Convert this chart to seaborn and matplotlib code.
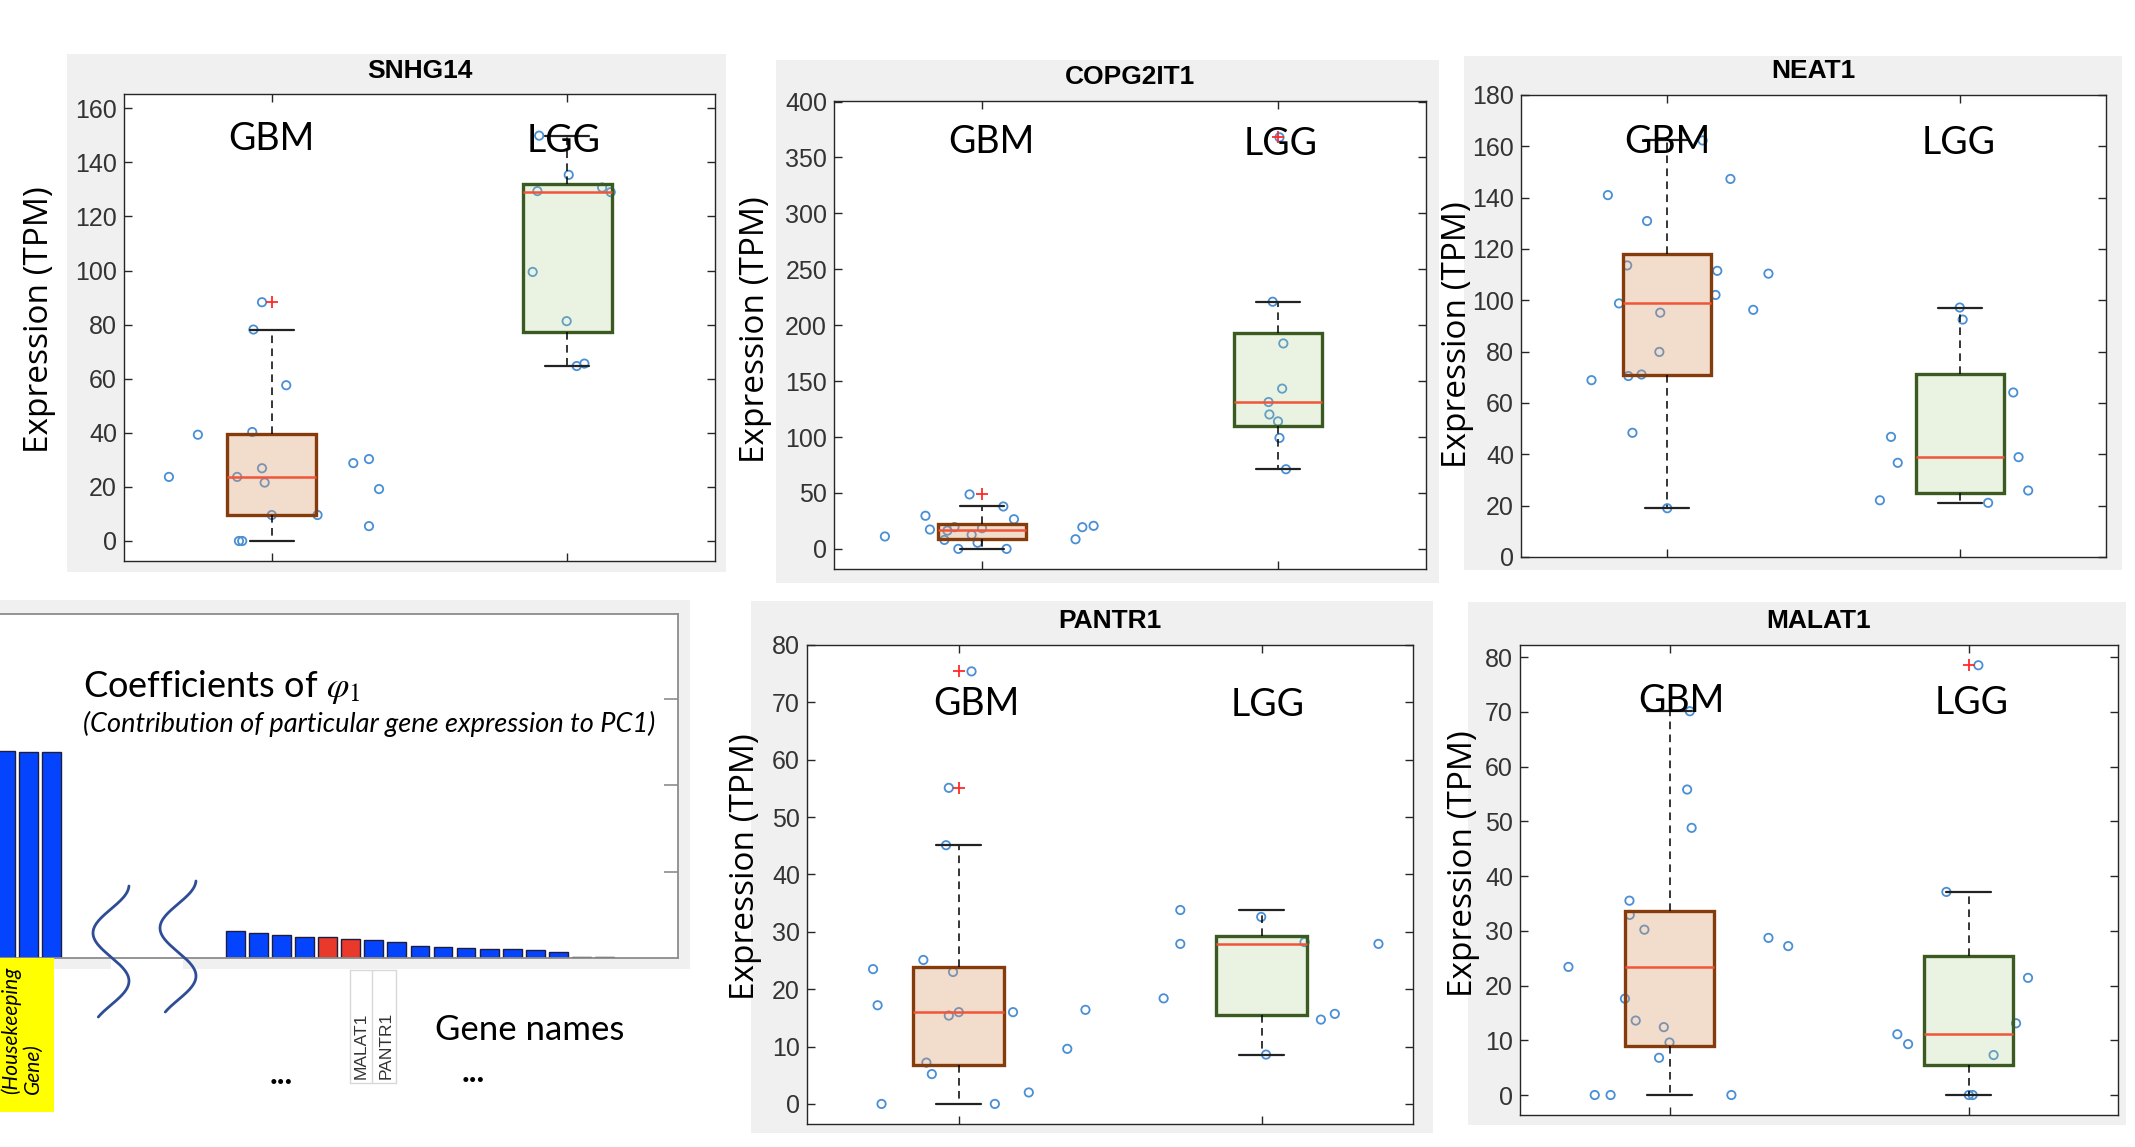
import numpy as np
import pandas as pd
import matplotlib
matplotlib.use("Agg")
import matplotlib.pyplot as plt
import seaborn as sns
from matplotlib.patches import Rectangle
from matplotlib.transforms import blended_transform_factory

# ---------------------------------------------------------------- data
groups = ["GBM", "LGG"]

snhg14_gbm = [23.7, 39.3, 23.7, 0.0, 0.0, 40.3, 78.2, 88.3, 26.9, 21.6, 9.6, 57.6, 9.6, 28.8, 30.3, 19.2, 5.5]
snhg14_gbm_dx = [-0.348, -0.250, -0.117, -0.111, -0.100, -0.066, -0.062, -0.033, -0.033, -0.024, 0.0, 0.049, 0.155, 0.276, 0.329, 0.363, 0.329]
snhg14_lgg = [149.9, 135.4, 129.4, 130.7, 129.0, 99.5, 81.3, 64.7, 65.6]
snhg14_lgg_dx = [-0.095, 0.005, -0.101, 0.118, 0.147, -0.117, -0.002, 0.032, 0.058]

copg2it1_gbm = [11.1, 29.6, 17.3, 8.0, 16.3, 19.4, 0.0, 48.7, 12.6, 5.5, 18.5, 37.9, 0.0, 26.5, 8.6, 19.4, 20.6]
copg2it1_gbm_dx = [-0.328, -0.191, -0.176, -0.127, -0.117, -0.093, -0.080, -0.042, -0.035, -0.015, 0.0, 0.072, 0.083, 0.108, 0.316, 0.339, 0.377]
copg2it1_lgg = [221.0, 368.0, 183.7, 143.3, 131.3, 120.2, 114.0, 99.2, 71.2]
copg2it1_lgg_dx = [-0.018, 0.005, 0.018, 0.014, -0.032, -0.029, 0.0, 0.005, 0.027]

neat1_gbm = [68.9, 141.0, 98.8, 113.6, 70.5, 48.4, 71.1, 130.9, 79.9, 95.2, 19.0, 162.3, 102.1, 111.5, 147.3, 96.3, 110.4]
neat1_gbm_dx = [-0.259, -0.203, -0.165, -0.137, -0.133, -0.119, -0.088, -0.069, -0.027, -0.024, 0.0, 0.121, 0.165, 0.171, 0.216, 0.294, 0.346]
neat1_lgg = [22.1, 46.8, 36.7, 97.2, 92.5, 21.1, 64.1, 38.9, 25.9]
neat1_lgg_dx = [-0.273, -0.235, -0.212, 0.0, 0.010, 0.097, 0.183, 0.201, 0.234]

pantr1_gbm = [23.5, 17.2, 0.0, 25.1, 7.2, 5.2, 45.1, 55.1, 15.4, 23.0, 16.0, 75.4, 0.0, 16.0, 2.0, 9.6, 16.4]
pantr1_gbm_dx = [-0.282, -0.267, -0.254, -0.116, -0.106, -0.088, -0.041, -0.032, -0.032, -0.018, 0.001, 0.043, 0.120, 0.180, 0.232, 0.359, 0.419]
pantr1_lgg = [18.4, 33.8, 27.9, 32.6, 8.6, 28.2, 14.7, 15.7, 27.9]
pantr1_lgg_dx = [-0.323, -0.268, -0.268, -0.001, 0.015, 0.142, 0.196, 0.242, 0.386]

malat1_gbm = [23.4, 0.0, 0.0, 17.6, 35.5, 32.9, 13.6, 30.2, 6.8, 12.4, 9.6, 55.8, 70.1, 48.8, 0.0, 28.7, 27.2]
malat1_gbm_dx = [-0.338, -0.250, -0.197, -0.149, -0.134, -0.133, -0.113, -0.084, -0.035, -0.019, 0.0, 0.059, 0.068, 0.074, 0.207, 0.331, 0.397]
malat1_lgg = [11.1, 9.3, 37.1, 0.0, 0.0, 78.5, 7.3, 13.1, 21.4]
malat1_lgg_dx = [-0.238, -0.202, -0.074, 0.001, 0.014, 0.033, 0.084, 0.159, 0.199]

# PC1 coefficient bars (rank along the sorted gene list; ranks 3-9 are omitted)
bar_rank = [0, 1, 2, 10, 11, 12, 13, 14, 15, 16, 17, 18, 19, 20, 21, 22, 23, 24, 25, 26]
bar_coef = [0.240, 0.238, 0.238, 0.0314, 0.0290, 0.0267, 0.0243, 0.0243, 0.0220, 0.0208,
            0.0188, 0.0141, 0.0129, 0.0118, 0.0106, 0.0106, 0.0094, 0.0071, 0.0016, 0.0016]
bar_kind = ["other"] * 7 + ["selected"] * 2 + ["other"] * 11
gene_labels = ["MALAT1", "PANTR1"]

# ---------------------------------------------------------------- style
W, H = 2135, 1147
sns.set_theme(style="white")
plt.rcParams["font.family"] = ["Liberation Sans", "DejaVu Sans"]
plt.rcParams["mathtext.fontset"] = "stix"

BLUE_PT = "#4a8fd4"
GBM_FILL, GBM_EDGE = (0.855, 0.608, 0.427, 0.35), "#843c0c"
LGG_FILL, LGG_EDGE = (0.686, 0.812, 0.561, 0.25), "#3a5a22"
GRAY_BG = "#f0f0f0"
CALIBRI = ["Lato", "DejaVu Sans"]

fig = plt.figure(figsize=(W / 100, H / 100), dpi=100)
fig.patch.set_facecolor("white")


def px_axes(x0, y0, x1, y1, **kw):
    return fig.add_axes([x0 / W, 1 - y1 / H, (x1 - x0) / W, (y1 - y0) / H], **kw)


bg = fig.add_axes([0, 0, 1, 1], zorder=-10)
bg.set_xlim(0, W)
bg.set_ylim(H, 0)
bg.axis("off")

ov = fig.add_axes([0, 0, 1, 1], zorder=10)
ov.set_xlim(0, W)
ov.set_ylim(H, 0)
ov.axis("off")


def box_stats(vals):
    v = np.sort(np.asarray(vals, float))
    q1, med, q3 = np.percentile(v, [25, 50, 75], method="hazen")
    iqr = q3 - q1
    lo, hi = q1 - 1.5 * iqr, q3 + 1.5 * iqr
    inside = v[(v >= lo) & (v <= hi)]
    return dict(med=med, q1=q1, q3=q3, whislo=inside.min(), whishi=inside.max(),
                fliers=v[(v < lo) | (v > hi)])


panels = [
    dict(title="SNHG14", gbm=snhg14_gbm, gbm_dx=snhg14_gbm_dx, lgg=snhg14_lgg, lgg_dx=snhg14_lgg_dx,
         ylim=(-7.4, 165.3), yticks=np.arange(0, 161, 20),
         rect=(124, 94, 715, 561), gray=(67, 54, 726, 572), title_y=71, ylab=(40, 320),
         lab=[(0.0, 0.880), (-0.013, 0.875)]),
    dict(title="COPG2IT1", gbm=copg2it1_gbm, gbm_dx=copg2it1_gbm_dx, lgg=copg2it1_lgg, lgg_dx=copg2it1_lgg_dx,
         ylim=(-18, 400.5), yticks=np.arange(0, 401, 50),
         rect=(834, 101, 1426, 569), gray=(776, 60, 1439, 583), title_y=77, ylab=(755, 330),
         lab=[(0.03, 0.889), (0.01, 0.885)]),
    dict(title="NEAT1", gbm=neat1_gbm, gbm_dx=neat1_gbm_dx, lgg=neat1_lgg, lgg_dx=neat1_lgg_dx,
         ylim=(0, 180), yticks=np.arange(0, 181, 20),
         rect=(1521, 95, 2106, 557), gray=(1464, 56, 2122, 570), title_y=71, ylab=(1457, 335),
         lab=[(0.0, 0.875), (-0.005, 0.872)]),
    dict(title="PANTR1", gbm=pantr1_gbm, gbm_dx=pantr1_gbm_dx, lgg=pantr1_lgg, lgg_dx=pantr1_lgg_dx,
         ylim=(-3.5, 80), yticks=np.arange(0, 81, 10),
         rect=(807, 645, 1413, 1124), gray=(751, 601, 1433, 1133), title_y=621, ylab=(745, 867),
         lab=[(0.06, 0.853), (0.02, 0.851)]),
    dict(title="MALAT1", gbm=malat1_gbm, gbm_dx=malat1_gbm_dx, lgg=malat1_lgg, lgg_dx=malat1_lgg_dx,
         ylim=(-3.65, 82.2), yticks=np.arange(0, 81, 10),
         rect=(1520, 645, 2118, 1115), gray=(1468, 602, 2126, 1125), title_y=621, ylab=(1463, 864),
         lab=[(0.04, 0.858), (0.01, 0.853)]),
]

for p in panels:
    gx0, gy0, gx1, gy1 = p["gray"]
    bg.add_patch(Rectangle((gx0, gy0), gx1 - gx0, gy1 - gy0, facecolor=GRAY_BG, edgecolor="none"))
    x0, y0, x1, y1 = p["rect"]
    ax = px_axes(x0, y0, x1, y1)
    ax.set_facecolor("white")

    df = pd.DataFrame({
        "pos": [0 + d for d in p["gbm_dx"]] + [1 + d for d in p["lgg_dx"]],
        "val": list(p["gbm"]) + list(p["lgg"]),
    })
    sns.scatterplot(data=df, x="pos", y="val", ax=ax, s=36, color=BLUE_PT, linewidth=1.3,
                    zorder=2, legend=False)
    coll = ax.collections[-1]
    coll.set_facecolor("none")
    coll.set_edgecolor(BLUE_PT)

    stats = [box_stats(p["gbm"]), box_stats(p["lgg"])]
    bp = ax.bxp(stats, positions=[0, 1], widths=0.3, patch_artist=True, showfliers=True,
                manage_ticks=False, zorder=3,
                boxprops=dict(linewidth=2.4),
                whiskerprops=dict(color="black", linestyle=(0, (5, 3.5)), linewidth=1.1),
                capprops=dict(color="#222222", linewidth=1.6),
                medianprops=dict(color="#f0553a", linewidth=1.8),
                flierprops=dict(marker="+", markeredgecolor="#ff2a2a", markersize=9,
                                markeredgewidth=1.3, linestyle="none"))
    for patch, fc, ec in zip(bp["boxes"], [GBM_FILL, LGG_FILL], [GBM_EDGE, LGG_EDGE]):
        patch.set_facecolor(fc)
        patch.set_edgecolor(ec)

    ax.set_xlim(-0.5, 1.5)
    ax.set_ylim(*p["ylim"])
    ax.set_xticks([0, 1])
    ax.set_yticks(p["yticks"])
    ax.set_xlabel("")
    ax.set_ylabel("")
    ax.tick_params(axis="both", direction="in", length=6, width=1, color="#262626",
                   left=True, right=True, top=True, bottom=True,
                   labelbottom=False, labelleft=True, labelsize=18, labelcolor="#333333", pad=5)
    for sp in ax.spines.values():
        sp.set_visible(True)
        sp.set_color("#262626")
        sp.set_linewidth(1.0)

    tr = blended_transform_factory(ax.transData, ax.transAxes)
    for i, (g, (dx, fy)) in enumerate(zip(groups, p["lab"])):
        ax.text(i + dx, fy, g, transform=tr, ha="center", va="baseline", fontsize=27,
                family=CALIBRI, color="black", zorder=6)

    ov.text((x0 + x1) / 2, p["title_y"], p["title"], ha="center", va="center",
            fontsize=19, fontweight="bold", color="black")
    ov.text(p["ylab"][0], p["ylab"][1], "Expression (TPM)", rotation=90, ha="center",
            va="center", fontsize=24, family=["Open Sans", "DejaVu Sans"], color="black")

# ---------------------------------------------------------------- PC1 bar panel
bg.add_patch(Rectangle((0, 600), 690, 369, facecolor=GRAY_BG, edgecolor="none"))
axb = px_axes(0, 614, 678, 958)
axb.set_facecolor("white")
bdf = pd.DataFrame({"rank": bar_rank, "coef": bar_coef, "kind": bar_kind})
sns.barplot(data=bdf, x="rank", y="coef", hue="kind",
            palette={"other": "#0444ff", "selected": "#e8392b"}, saturation=1,
            native_scale=True, dodge=False, width=0.82, errorbar=None,
            edgecolor="#1e1e3c", linewidth=1.0, legend=False, ax=axb)
axb.set_xlim(-0.228, 29.2)
axb.set_ylim(0, 0.398)
axb.set_xlabel("")
axb.set_ylabel("")
axb.set_xticks([])
axb.set_yticks([0.1, 0.2, 0.3])
axb.tick_params(axis="y", direction="in", length=10, width=1.2, color="#8c8c8c",
                left=False, right=True, labelleft=False, labelright=False)
axb.spines["left"].set_visible(False)
for k in ["top", "right", "bottom"]:
    axb.spines[k].set_visible(True)
    axb.spines[k].set_color("#8c8c8c")
    axb.spines[k].set_linewidth(1.3)

# annotations of the PC1 panel
ov.add_patch(Rectangle((111, 959), 72, 11, facecolor="white", edgecolor="none", zorder=1))
yy = np.linspace(886, 1017, 200)
for sx, sy in [(0, 0), (67, -5)]:
    xx = 111 - 18 * np.sin(2 * np.pi * (yy - 909) / 96)
    ov.plot(xx + sx, yy + sy, color="#2e4d96", lw=2.0, zorder=3, solid_capstyle="round")

ov.add_patch(Rectangle((0, 958), 54, 154, facecolor="#ffff00", edgecolor="none", zorder=2))
ov.text(22, 1094, "(Housekeeping\nGene)", rotation=90, ha="center", va="bottom",
        fontsize=15, style="italic", family=CALIBRI, multialignment="left",
        linespacing=1.1, color="black", zorder=4)

for xl in [350, 372, 396]:
    ov.plot([xl, xl], [970, 1083], color="#d8d8d8", lw=1.0, zorder=2)
for yl in [970, 1083]:
    ov.plot([350, 396], [yl, yl], color="#d8d8d8", lw=1.0, zorder=2)
for xl, name in zip([361, 386], gene_labels):
    ov.text(xl, 1079, name, rotation=90, ha="center", va="bottom", fontsize=12.5,
            color="#333333", zorder=4)

ov.text(83, 687, r"Coefficients of $\varphi_1$", ha="left", va="center", fontsize=26,
        family=CALIBRI, color="black", zorder=4)
ov.text(83, 724, "(Contribution of particular gene expression to PC1)", ha="left",
        va="center", fontsize=19.5, style="italic", family=CALIBRI, color="black", zorder=4)
ov.text(435, 1030, "Gene names", ha="left", va="center", fontsize=25, family=CALIBRI,
        color="black", zorder=4)
for xd, yd in [(281, 1074), (473, 1072)]:
    ov.text(xd, yd, "...", ha="center", va="center", fontsize=24, fontweight="bold",
            family=CALIBRI, color="black", zorder=4)

fig.savefig("out.png", dpi=100, facecolor="white")
